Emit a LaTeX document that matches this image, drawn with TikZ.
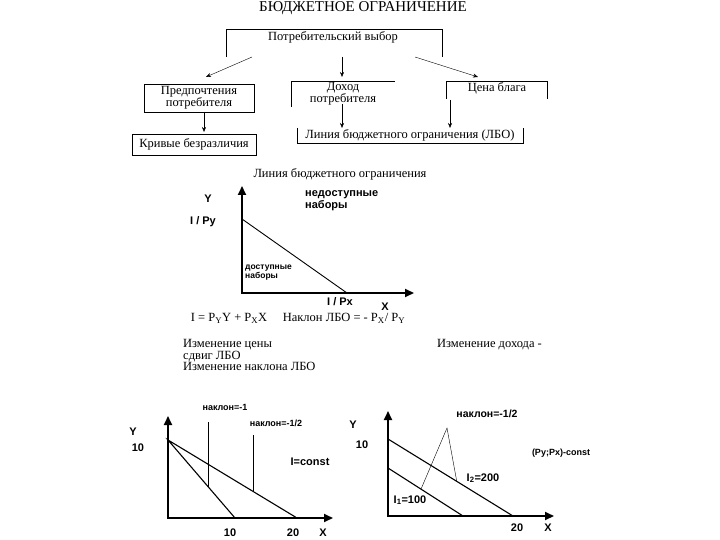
\documentclass[tikz,border=0pt]{standalone}
\usepackage{fontspec}
\setmainfont{Liberation Serif}
\setsansfont{Liberation Sans}
\usetikzlibrary{arrows.meta, positioning, calc}

\begin{document}
\begin{tikzpicture}[
    x=1pt, y=-1pt,
    txt/.style={font=\fontsize{12.5}{12}\selectfont, inner sep=0pt},
    box/.style={draw, inner sep=0pt, align=center,
                font=\fontsize{12.5}{12}\selectfont},
    lbl/.style={font=\sffamily\bfseries\fontsize{11}{12}\selectfont,
                inner sep=0pt},
    smlbl/.style={font=\sffamily\bfseries\fontsize{9}{10}\selectfont,
                  inner sep=0pt},
    axis/.style={line width=2pt,
                 {Triangle[length=9pt,width=8pt]}-{Triangle[length=9pt,width=8pt]}},
    bline/.style={line width=1.1pt},
    flow/.style={-{Stealth[length=5pt,width=4pt]}}
  ]
  \useasboundingbox (0,0) rectangle (720,540);

  % --- scheme ---
  \node[txt, font=\fontsize{15}{15}\selectfont] (title) at (363,8)
    {БЮДЖЕТНОЕ ОГРАНИЧЕНИЕ};
  \node[txt] (choice) at (333,37) {Потребительский выбор};
  \draw (226,57) |- (442,29) -- (442,57);

  \node[box, minimum width=110pt, minimum height=28pt] (pref) at (199,98)
    {Предпочтения\\потребителя};
  \node[txt, align=center] (income) at (343,94) {Доход\\потребителя};
  \draw (291,107) |- (395,81);
  \node[txt] (price) at (497,88) {Цена блага};
  \draw (446,99) |- (547,81) -- (547,99);

  \node[box, minimum width=124pt, minimum height=21pt] (curves) at (194,144.5)
    {Кривые безразличия};
  \node[txt] (lbo) at (410,135) {Линия бюджетного ограничения (ЛБО)};
  \draw (297,128) |- (523,143) -- (523,128);

  \coordinate (s1) at (252,57);  \coordinate (e1) at (206,77);
  \coordinate (s2) at (342,57);  \coordinate (e2) at (342,77);
  \coordinate (s3) at (415,57);  \coordinate (e3) at (478,77);
  \coordinate (s4) at (204,112); \coordinate (e4) at (204,132);
  \coordinate (s5) at (342,104); \coordinate (e5) at (342,128);
  \coordinate (s6) at (450,100); \coordinate (e6) at (450,128);
  \foreach \i in {1,...,6}
    \draw[flow] (s\i) -- (e\i);

  % --- budget line ---
  \node[txt] (cap) at (340,174) {Линия бюджетного ограничения};
  \coordinate (o1) at (242,293);
  \coordinate (y1) at (242,186);
  \coordinate (x1) at (414,293);
  \draw[axis] (y1) -- (o1) -- (x1);
  \coordinate (b1) at (242,219);
  \coordinate (b2) at (347,293);
  \draw[line width=0.9pt] (b1) -- (b2);
  \node[lbl] (ylab1) at (208,199) {Y};
  \node[lbl] (iy) at (203,222) {I / Py};
  \node[lbl, align=left, anchor=west] (nodost) at (305,201)
    {недоступные\\наборы};
  \node[smlbl, font=\sffamily\bfseries\fontsize{8.5}{9}\selectfont,
        align=left, anchor=west] (dost) at (245,273)
    {доступные\\наборы};
  \node[lbl] (ix) at (340,302) {I / Px};
  \node[lbl] (xlab1) at (385,307) {X};
  \node[txt] (formula) at (298,318)
    {I = P\textsubscript{Y}Y + P\textsubscript{X}X \quad
     Наклон ЛБО = - P\textsubscript{X}/ P\textsubscript{Y}};

  \node[txt, anchor=base west] (chg1) at (183,347) {Изменение цены};
  \node[txt, anchor=base west] (chg2) at (183,359) {сдвиг ЛБО};
  \node[txt, anchor=base west] (chg3) at (183,370) {Изменение наклона ЛБО};
  \node[txt, anchor=base west] (chg4) at (437,347) {Изменение дохода -};

  % --- price change ---
  \coordinate (o2) at (168,518);
  \coordinate (y2) at (168,416);
  \coordinate (x2) at (333,518);
  \draw[axis] (y2) -- (o2) -- (x2);
  \coordinate (a0) at (168,440);
  \coordinate (a1) at (235,518);
  \coordinate (a2) at (297,518);
  \draw[bline] (a1) -- (a0) -- (a2);
  \coordinate (p1) at ($(a0)!0.6!(a1)$);
  \coordinate (p2) at ($(a0)!0.66!(a2)$);
  \coordinate (q1) at (p1 |- 0,422);
  \coordinate (q2) at (p2 |- 0,435);
  \draw[thin] (q1) -- (p1);
  \draw[thin] (q2) -- (p2);
  \node[lbl] (ylab2) at (133,432) {Y};
  \node[lbl] (ten2) at (138,448) {10};
  \node[smlbl] (k1) at (225,407) {наклон=-1};
  \node[smlbl] (k2) at (276,423) {наклон=-1/2};
  \node[lbl] (const2) at (310,462) {I=const};
  \node[lbl] (x10) at (230,533) {10};
  \node[lbl] (x20) at (293,533) {20};
  \node[lbl] (xlab2) at (323,533) {X};

  % --- income change ---
  \coordinate (o3) at (388,516);
  \coordinate (y3) at (388,411);
  \coordinate (x3) at (554,516);
  \draw[axis] (y3) -- (o3) -- (x3);
  \coordinate (u0) at (388,439);
  \coordinate (u1) at (513,516);
  \coordinate (l0) at (388,468);
  \coordinate (l1) at (463,516);
  \draw[bline] (u0) -- (u1);
  \draw[bline] (l0) -- (l1);
  \coordinate (peak) at (447,428);
  \draw[thin] ($(l0)!0.44!(l1)$) -- (peak) -- ($(u0)!0.55!(u1)$);
  \node[lbl] (ylab3) at (353,425) {Y};
  \node[lbl] (ten3) at (362,445) {10};
  \node[smlbl, font=\sffamily\bfseries\fontsize{10.5}{11}\selectfont]
    (k3) at (487,414) {наклон=-1/2};
  \node[smlbl] (const3) at (561,453) {(Py;Px)-const};
  \node[lbl] (i2) at (483,478) {I\textsubscript{2}=200};
  \node[lbl] (i1) at (410,500) {I\textsubscript{1}=100};
  \node[lbl] (x20b) at (517,528) {20};
  \node[lbl] (xlab3) at (548,528) {X};
\end{tikzpicture}
\end{document}
